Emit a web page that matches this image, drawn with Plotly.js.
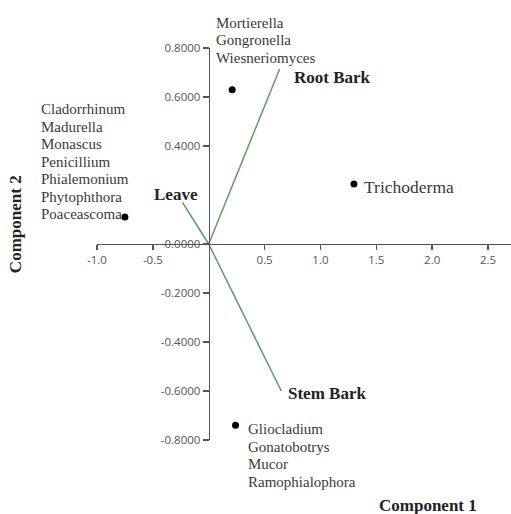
<!DOCTYPE html>
<html>
<head>
<meta charset="utf-8">
<script src="https://cdn.plot.ly/plotly-3.0.1.min.js"></script>
<style>html,body{margin:0;padding:0;background:#fff;}#chart{width:511px;height:514px;}</style>
</head>
<body>
<div id="chart"></div>
<script>
// ---- data ----
var groupX = [0.21, -0.75, 1.30, 0.24];
var groupY = [0.63, 0.11, 0.245, -0.74];
var groupNames = [
  ["Mortierella", "Gongronella", "Wiesneriomyces"],
  ["Cladorrhinum", "Madurella", "Monascus", "Penicillium", "Phialemonium", "Phytophthora", "Poaceascoma"],
  ["Trichoderma"],
  ["Gliocladium", "Gonatobotrys", "Mucor", "Ramophialophora"]
];
var loadingNames = ["Root Bark", "Leave", "Stem Bark"];
var loadingX = [0.635, -0.235, 0.65];
var loadingY = [0.714, 0.17, -0.60];
var xTickVals = [-1.0, -0.5, 0.5, 1.0, 1.5, 2.0, 2.5];
var xTickText = ["-1.0", "-0.5", "0.5", "1.0", "1.5", "2.0", "2.5"];
var yTickVals = [-0.8, -0.6, -0.4, -0.2, 0.0, 0.4, 0.6, 0.8];
var yTickText = ["-0.8000", "-0.6000", "-0.4000", "-0.2000", "0.0000", "0.4000", "0.6000", "0.8000"];
var xTitle = "Component 1";
var yTitle = "Component 2";

// ---- styling of labels (pixel offsets) ----
var groupLabelStyle = [
  {xshift: -18, y0: 67, step: -17.5, size: 15, anchor: "left"},
  {xshift: -86, y0: 108, step: -17.5, size: 15, anchor: "left"},
  {xshift: 8, y0: -3, step: 0, size: 17.5, anchor: "left"},
  {xshift: 10, y0: -4, step: -17.5, size: 15, anchor: "left"}
];
var loadingLabelStyle = [
  {xshift: 12, yshift: -8, anchor: "left"},
  {xshift: 18, yshift: 8, anchor: "right"},
  {xshift: 5, yshift: -3, anchor: "left"}
];

var serif = "Liberation Serif";
var traces = [];
var lx = [], ly = [];
for (var i = 0; i < loadingNames.length; i++) {
  lx.push(0, loadingX[i], null);
  ly.push(0, loadingY[i], null);
}
traces.push({x: lx, y: ly, type: "scatter", mode: "lines",
  line: {color: "#5f9c5f", width: 1.5}, hoverinfo: "skip", cliponaxis: false});
traces.push({x: groupX, y: groupY, type: "scatter", mode: "markers",
  marker: {color: "#000", size: 7}, cliponaxis: false});

var annotations = [];
for (var g = 0; g < groupNames.length; g++) {
  var st = groupLabelStyle[g];
  for (var k = 0; k < groupNames[g].length; k++) {
    annotations.push({x: groupX[g], y: groupY[g], xref: "x", yref: "y",
      text: groupNames[g][k], showarrow: false, xanchor: st.anchor, yanchor: "middle",
      xshift: st.xshift, yshift: st.y0 + k * st.step,
      font: {family: serif, size: st.size, color: "#3a3a3a"}});
  }
}
for (var j = 0; j < loadingNames.length; j++) {
  var ls = loadingLabelStyle[j];
  annotations.push({x: loadingX[j], y: loadingY[j], xref: "x", yref: "y",
    text: "<b>" + loadingNames[j] + "</b>", showarrow: false, xanchor: ls.anchor, yanchor: "middle",
    xshift: ls.xshift, yshift: ls.yshift,
    font: {family: serif, size: 17, color: "#222"}});
}
annotations.push({x: 0.8376, y: 0.0156, xref: "paper", yref: "paper", text: "<b>" + xTitle + "</b>",
  showarrow: false, xanchor: "center", yanchor: "middle", font: {family: serif, size: 17, color: "#222"}});
annotations.push({x: 0.0294, y: 0.564, xref: "paper", yref: "paper", text: "<b>" + yTitle + "</b>",
  textangle: -90, showarrow: false, xanchor: "center", yanchor: "middle", font: {family: serif, size: 17, color: "#222"}});

var layout = {
  width: 511, height: 514,
  margin: {l: 0, r: 0, t: 0, b: 0},
  paper_bgcolor: "#fff", plot_bgcolor: "#fff",
  showlegend: false,
  xaxis: {domain: [0.1898, 1], range: [-1.0, 2.706], anchor: "free", position: 0.5253,
    showgrid: false, zeroline: false, showline: true, linecolor: "#555", linewidth: 1.5,
    ticks: "outside", ticklen: 5, tickwidth: 1.5, tickcolor: "#555",
    tickmode: "array", tickvals: xTickVals, ticktext: xTickText,
    tickfont: {family: "Open Sans", size: 11.5, color: "#555"}},
  yaxis: {domain: [0.144, 0.9066], range: [-0.8, 0.8], anchor: "free", position: 0.4084,
    showgrid: false, zeroline: false, showline: true, linecolor: "#555", linewidth: 1.5,
    ticks: "outside", ticklen: 6, tickwidth: 1.5, tickcolor: "#555",
    tickmode: "array", tickvals: yTickVals, ticktext: yTickText,
    tickfont: {family: "Open Sans", size: 11.5, color: "#555"}},
  annotations: annotations
};
Plotly.newPlot("chart", traces, layout, {displayModeBar: false, staticPlot: true});
</script>
</body>
</html>
